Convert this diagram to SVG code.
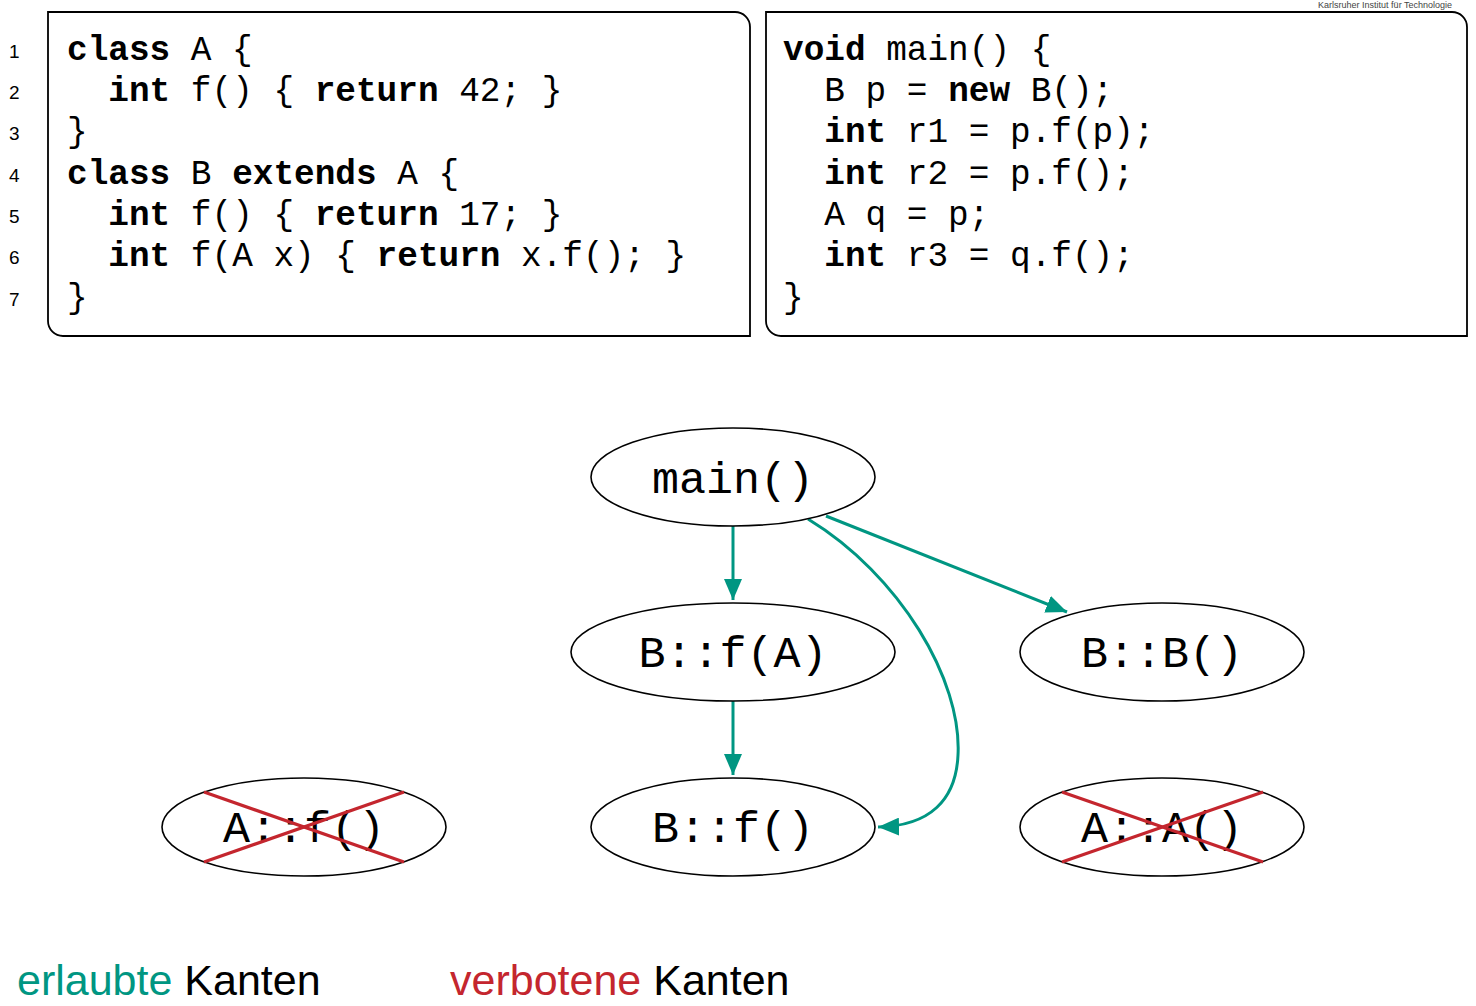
<svg xmlns="http://www.w3.org/2000/svg" width="1476" height="1006" viewBox="0 0 1476 1006">
<style>
.box{fill:none;stroke:#000;stroke-width:1.8}
.code{font-family:"Liberation Mono","Courier New",monospace;font-size:34.4px;fill:#000}
.code .k{font-weight:bold}
.ln{font-family:"Liberation Sans",Arial,sans-serif;font-size:19px;fill:#000}
.node ellipse{fill:#fff;stroke:#000;stroke-width:1.6}
.node text{font-family:"Liberation Mono","Courier New",monospace;font-size:45px;fill:#000;text-anchor:middle}
.edge{fill:none;stroke:#009682;stroke-width:3}
.cross{stroke:#c4262e;stroke-width:3.2}
.leg{font-family:"Liberation Sans",Arial,sans-serif;font-size:43px}
</style>
<defs>
<marker id="ah" markerWidth="8" markerHeight="6" refX="7" refY="3" orient="auto" markerUnits="strokeWidth">
<path d="M0,0 L7,3 L0,6 z" fill="#009682"/>
</marker>
</defs>
<rect width="1476" height="1006" fill="#fff"/>
<text x="1452" y="8" text-anchor="end" font-family="Liberation Sans,Arial,sans-serif" font-size="9" fill="#444">Karlsruher Institut für Technologie</text>

<g id="code-left">
<path class="box" d="M48,12 H735 A15,15 0 0 1 750,27 V336 H63 A15,15 0 0 1 48,321 Z"/>
<g class="ln">
<text x="9" y="58">1</text><text x="9" y="99">2</text><text x="9" y="140">3</text><text x="9" y="182">4</text><text x="9" y="223">5</text><text x="9" y="264">6</text><text x="9" y="306">7</text>
</g>
<g class="code">
<text x="67" y="60"><tspan class="k">class</tspan> A {</text>
<text x="108.3" y="101"><tspan class="k">int</tspan> f() { <tspan class="k">return</tspan> 42; }</text>
<text x="67" y="142">}</text>
<text x="67" y="184"><tspan class="k">class</tspan> B <tspan class="k">extends</tspan> A {</text>
<text x="108.3" y="225"><tspan class="k">int</tspan> f() { <tspan class="k">return</tspan> 17; }</text>
<text x="108.3" y="266"><tspan class="k">int</tspan> f(A x) { <tspan class="k">return</tspan> x.f(); }</text>
<text x="67" y="308">}</text>
</g>
</g>

<g id="code-right">
<path class="box" d="M766,12 H1452 A15,15 0 0 1 1467,27 V336 H781 A15,15 0 0 1 766,321 Z"/>
<g class="code">
<text x="783" y="60"><tspan class="k">void</tspan> main() {</text>
<text x="824.3" y="101">B p = <tspan class="k">new</tspan> B();</text>
<text x="824.3" y="142"><tspan class="k">int</tspan> r1 = p.f(p);</text>
<text x="824.3" y="184"><tspan class="k">int</tspan> r2 = p.f();</text>
<text x="824.3" y="225">A q = p;</text>
<text x="824.3" y="266"><tspan class="k">int</tspan> r3 = q.f();</text>
<text x="783" y="308">}</text>
</g>
</g>

<g id="edges">
<path class="edge" marker-end="url(#ah)" d="M733,526 V600"/>
<path class="edge" marker-end="url(#ah)" d="M733,701 V775"/>
<path class="edge" marker-end="url(#ah)" d="M826,516 L1067,612"/>
<path class="edge" marker-end="url(#ah)" d="M808,519 C900,575 962,680 958,755 C956,800 930,826 878,827"/>
</g>

<g id="node-main" class="node">
<ellipse cx="733" cy="477" rx="142" ry="49"/>
<text x="733" y="493">main()</text>
</g>
<g id="node-Bf-A" class="node">
<ellipse cx="733" cy="652" rx="162" ry="49"/>
<text x="733" y="667">B::f(A)</text>
</g>
<g id="node-BB" class="node">
<ellipse cx="1162" cy="652" rx="142" ry="49"/>
<text x="1162" y="667">B::B()</text>
</g>
<g id="node-Af" class="node">
<ellipse cx="304" cy="827" rx="142" ry="49"/>
<text x="304" y="842">A::f()</text>
<line class="cross" x1="204" y1="792" x2="404" y2="862"/>
<line class="cross" x1="204" y1="862" x2="404" y2="792"/>
</g>
<g id="node-Bf" class="node">
<ellipse cx="733" cy="827" rx="142" ry="49"/>
<text x="733" y="842">B::f()</text>
</g>
<g id="node-AA" class="node">
<ellipse cx="1162" cy="827" rx="142" ry="49"/>
<text x="1162" y="842">A::A()</text>
<line class="cross" x1="1062" y1="792" x2="1263" y2="862"/>
<line class="cross" x1="1062" y1="862" x2="1263" y2="792"/>
</g>

<g id="legend">
<text class="leg" x="17" y="995"><tspan fill="#009682">erlaubte</tspan> <tspan fill="#000">Kanten</tspan></text>
<text class="leg" x="450" y="995"><tspan fill="#c4262e">verbotene</tspan> <tspan fill="#000">Kanten</tspan></text>
</g>
</svg>
